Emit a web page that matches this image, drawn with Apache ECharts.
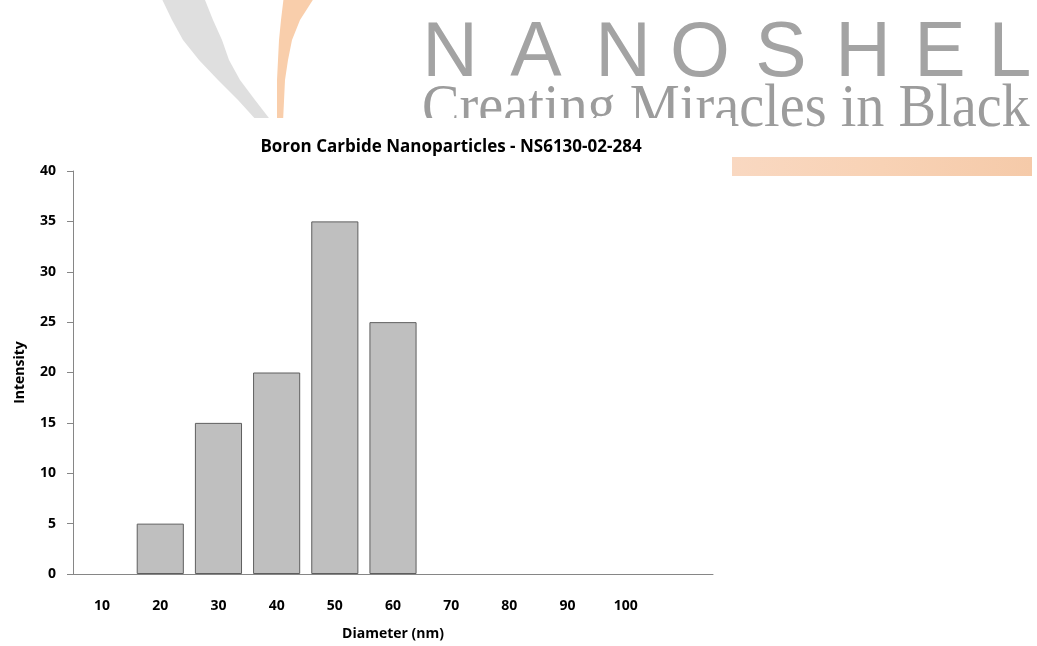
<!DOCTYPE html>
<html><head><meta charset="utf-8">
<script src="https://cdn.jsdelivr.net/npm/echarts@6/dist/echarts.min.js"></script>
<style>html,body{margin:0;padding:0;background:#fff}#c{width:1037px;height:646px}</style>
</head><body><div id="c"></div>
<script>
const categories = ['10', '20', '30', '40', '50', '60', '70', '80', '90', '100', ''];
const intensity = [0, 5, 15, 20, 35, 25, 0, 0, 0, 0];
const yMin = 0, yMax = 40, yInterval = 5;
const titleText = 'Boron Carbide Nanoparticles - NS6130-02-284';
const xName = 'Diameter (nm)';
const yName = 'Intensity';
const brandLetters = ['N', 'A', 'N', 'O', 'S', 'H', 'E', 'L'];
const brandTagline = 'Creating Miracles in Black';

const FONT = '"Open Sans", "Noto Sans", sans-serif';
const letterX = [450, 536, 623, 700, 781, 863, 940, 1010];

const graySwoosh = [[160,-5],[172,20],[183,40],[199,60],[218,80],[238,100],[258,122],[272,122],[255,100],[240,80],[229,60],[222,40],[213,20],[203,-5]];
const orangeSwoosh = [[284,-5],[281,20],[279,40],[278,60],[277,80],[277,122],[283,122],[285,80],[288,60],[292,40],[300,20],[316,-5]];

const graphics = [
  { type: 'polygon', z: -3, shape: { points: graySwoosh }, style: { fill: '#DFDFDF' } },
  { type: 'polygon', z: -3, shape: { points: orangeSwoosh }, style: { fill: '#F9CEAB' } },
  { type: 'rect', z: -3, shape: { x: 732, y: 157, width: 300, height: 19 },
    style: { fill: { type: 'linear', x: 0, y: 0, x2: 1, y2: 0, colorStops: [
      { offset: 0, color: '#F9D8C1' }, { offset: 0.5, color: '#F8D2B5' }, { offset: 1, color: '#F5CAA9' }] } } },
  { type: 'text', z: -3, x: 422, y: 141, scaleX: 0.97, scaleY: 1.07,
    style: { text: brandTagline, font: '58px "Liberation Serif", serif', fill: '#9C9C9C', textAlign: 'left', textVerticalAlign: 'bottom' } }
];
brandLetters.forEach((ch, i) => {
  graphics.push({ type: 'text', z: -3, x: letterX[i], y: 55,
    style: { text: ch, font: '77px "Liberation Sans", sans-serif', fill: '#A3A3A3', textAlign: 'center', textVerticalAlign: 'middle' } });
});
graphics.push({ type: 'rect', z: -2, shape: { x: 0, y: 118, width: 732, height: 528 }, style: { fill: '#ffffff' } });

const barData = intensity.map(v => v === 0 ? { value: v, itemStyle: { borderWidth: 0 } } : v);

const chart = echarts.init(document.getElementById('c'));
chart.setOption({
  animation: false,
  backgroundColor: '#ffffff',
  graphic: { elements: graphics },
  title: {
    text: titleText, left: 446, top: 134, textAlign: 'center',
    textStyle: { fontFamily: FONT, fontWeight: 'bold', fontSize: 17, color: '#000' }
  },
  grid: { left: 73, right: 324, top: 171, bottom: 72 },
  xAxis: {
    type: 'category', data: categories,
    name: xName, nameLocation: 'middle', nameGap: 53,
    nameTextStyle: { fontFamily: FONT, fontWeight: 'bold', fontSize: 14, color: '#000' },
    axisLine: { lineStyle: { color: '#868686', width: 1 } },
    axisTick: { show: false },
    axisLabel: { fontFamily: FONT, fontWeight: 'bold', fontSize: 14, color: '#000', margin: 25, interval: 0 }
  },
  yAxis: {
    type: 'value', min: yMin, max: yMax, interval: yInterval,
    name: yName, nameLocation: 'middle', nameGap: 46,
    nameTextStyle: { fontFamily: FONT, fontWeight: 'bold', fontSize: 14, color: '#000' },
    axisLine: { show: true, lineStyle: { color: '#868686', width: 1 } },
    axisTick: { show: true, length: 6, lineStyle: { color: '#868686' } },
    splitLine: { show: false },
    axisLabel: { fontFamily: FONT, fontWeight: 'bold', fontSize: 14, color: '#000', margin: 17 }
  },
  series: [{
    type: 'bar', data: barData, barCategoryGap: '19%',
    itemStyle: { color: '#BFBFBF', borderColor: '#5E5E5E', borderWidth: 1 }
  }]
});
</script></body></html>
